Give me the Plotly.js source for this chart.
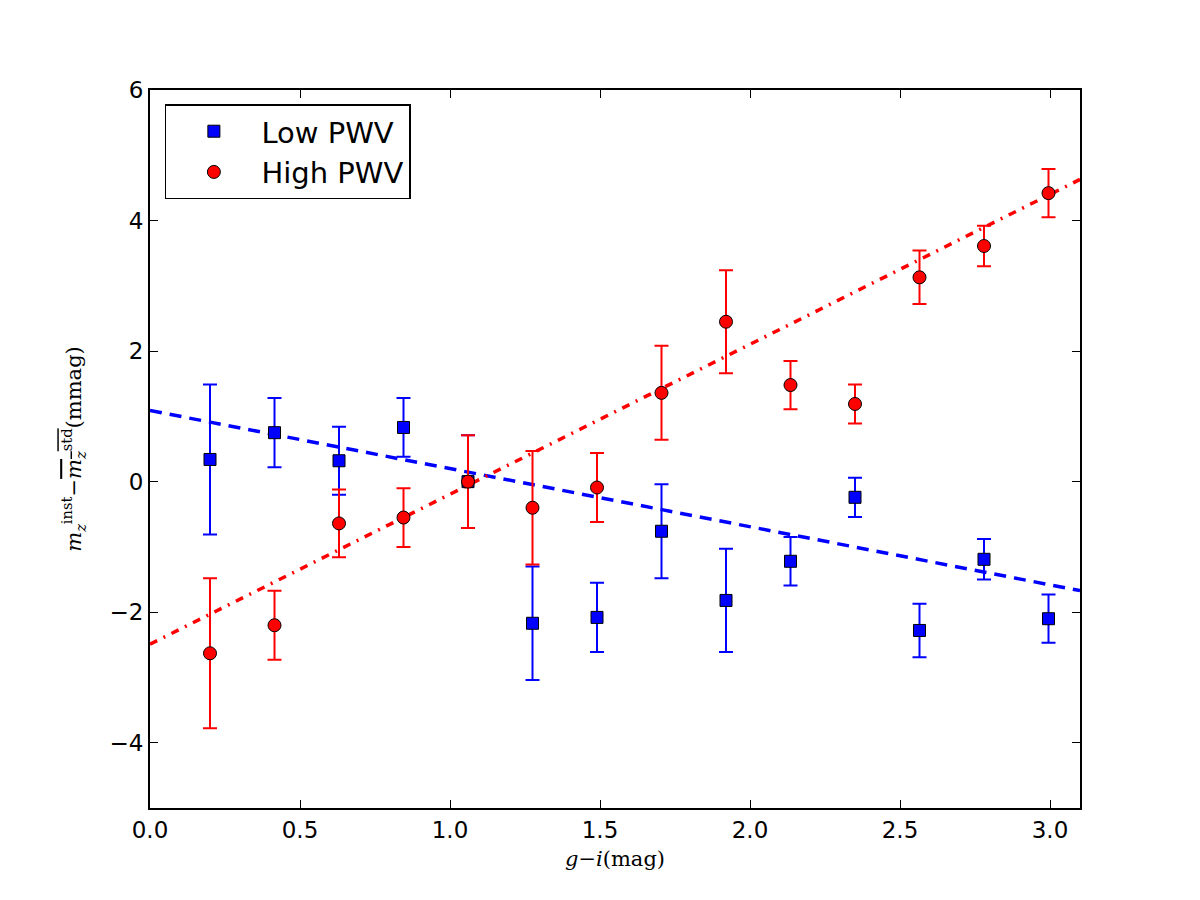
<!DOCTYPE html>
<html>
<head>
<meta charset="utf-8">
<script src="https://cdn.plot.ly/plotly-3.0.1.min.js"></script>
<style>body{margin:0;background:#fff}#chart{width:1200px;height:900px}</style>
</head>
<body>
<div id="chart"></div>
<script>
const colorGI = [0.2, 0.415, 0.63, 0.845, 1.06, 1.275, 1.49, 1.705, 1.92, 2.135, 2.35, 2.565, 2.78, 2.995];
const lowPWV = [0.34, 0.75, 0.32, 0.83, 0.0, -2.17, -2.08, -0.76, -1.82, -1.22, -0.24, -2.28, -1.19, -2.1];
const highPWV = [-2.63, -2.2, -0.64, -0.55, 0.0, -0.4, -0.09, 1.36, 2.45, 1.48, 1.19, 3.13, 3.61, 4.42];
const errors = [1.15, 0.53, 0.52, 0.45, 0.71, 0.87, 0.53, 0.72, 0.79, 0.37, 0.3, 0.41, 0.31, 0.37];
const fitX = [0, 3.1];
const lowFitY = [1.09, -1.67];
const highFitY = [-2.49, 4.63];
const xTicks = [0, 0.5, 1.0, 1.5, 2.0, 2.5, 3.0];
const yTicks = [-4, -2, 0, 2, 4, 6];

const traces = [
  {x: fitX, y: lowFitY, mode: 'lines', showlegend: false, hoverinfo: 'skip',
   line: {color: '#0000ff', width: 3.5, dash: '12px,8px'}},
  {x: fitX, y: highFitY, mode: 'lines', showlegend: false, hoverinfo: 'skip',
   line: {color: '#ff0000', width: 3.5, dash: '8px,7px,2px,7px'}},
  {x: colorGI, y: lowPWV, mode: 'markers', name: 'Low PWV',
   marker: {symbol: 'square', size: 12, color: '#0000ff', line: {color: '#000', width: 1}},
   error_y: {type: 'data', array: errors, visible: true, color: '#0000ff', thickness: 2, width: 7}},
  {x: colorGI, y: highPWV, mode: 'markers', name: 'High PWV',
   marker: {symbol: 'circle', size: 13, color: '#ff0000', line: {color: '#000', width: 1}},
   error_y: {type: 'data', array: errors, visible: true, color: '#ff0000', thickness: 2, width: 7}}
];

const axisCommon = {
  showline: true, linecolor: '#000', linewidth: 2, mirror: 'ticks',
  ticks: 'inside', ticklen: 8, tickwidth: 1, tickcolor: '#000',
  showgrid: false, zeroline: false,
  tickfont: {family: 'DejaVu Sans, sans-serif', size: 23, color: '#000'}
};

const layout = {
  width: 1200, height: 900,
  paper_bgcolor: '#fff', plot_bgcolor: '#fff',
  margin: {l: 150, r: 120, t: 90, b: 92},
  xaxis: Object.assign({}, axisCommon, {
    range: [0, 3.1], tickvals: xTicks, tickformat: '.1f',
    title: {text: '<i>g</i>−<i>i</i>(mag)', font: {family: 'DejaVu Serif, serif', size: 21, color: '#000'}, standoff: 10}
  }),
  yaxis: Object.assign({}, axisCommon, {
    range: [-5, 6], tickvals: yTicks,
    title: {text: '<i>m</i><sub><i>z</i></sub><sup>inst</sup>−<span style="text-decoration:overline"><i>m</i><sub><i>z</i></sub><sup>std</sup></span>(mmag)',
            font: {family: 'DejaVu Serif, serif', size: 21, color: '#000'}, standoff: 22}
  }),
  legend: {
    x: 0.016, y: 0.98, xanchor: 'left', yanchor: 'top',
    bgcolor: '#fff', bordercolor: '#000', borderwidth: 1.5,
    font: {family: 'DejaVu Sans, sans-serif', size: 29, color: '#000'},
    itemwidth: 85, tracegroupgap: 0
  }
};

Plotly.newPlot('chart', traces, layout, {displayModeBar: false, staticPlot: true});
</script>
</body>
</html>
